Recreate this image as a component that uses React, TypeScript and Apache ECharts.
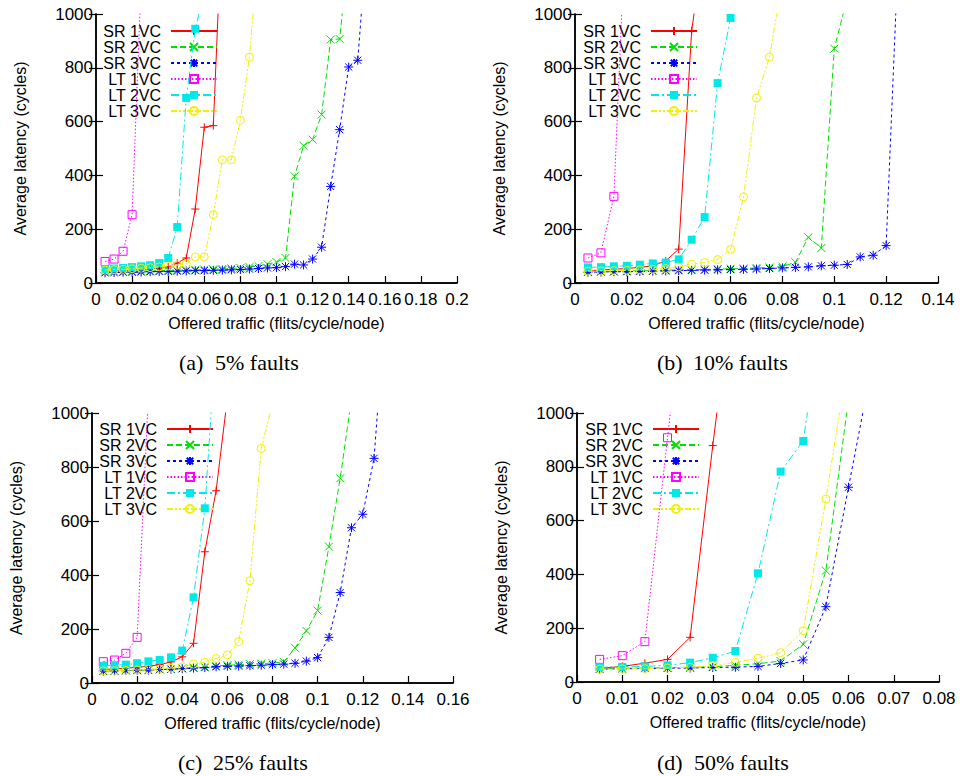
import React, { useEffect, useRef } from "react";
import * as echarts from "echarts";

const SERIES_NAMES = ["SR 1VC", "SR 2VC", "SR 3VC", "LT 1VC", "LT 2VC", "LT 3VC"];

// Offered traffic sample points (flits/cycle/node)
const X_VALUES = [
  0.005, 0.01, 0.015, 0.02, 0.025, 0.03, 0.035, 0.04, 0.045, 0.05,
  0.055, 0.06, 0.065, 0.07, 0.075, 0.08, 0.085, 0.09, 0.095, 0.1,
  0.105, 0.11, 0.115, 0.12, 0.125, 0.13, 0.135, 0.14, 0.145, 0.15,
];

// (a) 5% faults
const A_SR1 = [44, 45, 46, 48, 50, 52, 55, 60, 74, 93, 275, 579, 585, 1380];
const A_SR2 = [42, 43, 43, 44, 45, 45, 46, 47, 48, 48, 49, 50, 51, 52, 54, 56, 59, 63, 70, 78, 93, 397, 510, 533, 626, 905, 907, 1240];
const A_SR3 = [38, 39, 40, 40, 41, 42, 43, 43, 44, 45, 46, 46, 47, 48, 49, 50, 52, 54, 56, 57, 61, 70, 67, 89, 133, 359, 570, 803, 828, 1260];
const A_LT1 = [80, 89, 118, 254, 1120];
const A_LT2 = [52, 54, 56, 59, 62, 66, 74, 93, 208, 688, 945, 1080];
const A_LT3 = [48, 50, 51, 53, 55, 57, 60, 63, 67, 71, 97, 97, 254, 458, 458, 605, 840, 1240];

// (b) 10% faults
const B_SR1 = [46, 48, 51, 54, 58, 64, 82, 126, 938, 1280];
const B_SR2 = [42, 43, 43, 45, 46, 46, 48, 49, 50, 50, 52, 53, 54, 56, 58, 61, 77, 170, 130, 871, 1060];
const B_SR3 = [40, 41, 42, 42, 43, 44, 45, 46, 47, 48, 49, 50, 51, 52, 54, 56, 58, 60, 64, 66, 69, 97, 103, 139, 1300];
const B_LT1 = [93, 112, 322, 1450];
const B_LT2 = [58, 59, 62, 64, 68, 73, 76, 88, 161, 245, 743, 985, 1400];
const B_LT3 = [44, 45, 46, 47, 49, 51, 54, 60, 70, 76, 87, 125, 320, 688, 839, 1130];

// (c) 25% faults
const C_SR1 = [50, 52, 55, 58, 62, 68, 78, 97, 147, 486, 712, 1055];
const C_SR2 = [44, 45, 46, 47, 48, 50, 52, 54, 57, 60, 63, 66, 68, 70, 72, 74, 78, 130, 193, 268, 505, 758, 1053];
const C_SR3 = [44, 45, 46, 47, 48, 50, 51, 53, 55, 57, 60, 62, 63, 64, 66, 68, 70, 73, 81, 94, 169, 335, 575, 625, 832, 1390];
const C_LT1 = [79, 85, 110, 169, 1070];
const C_LT2 = [64, 66, 68, 73, 80, 85, 95, 120, 317, 647, 1280];
const C_LT3 = [45, 46, 47, 48, 50, 52, 55, 60, 70, 77, 91, 104, 153, 379, 869, 1033];

// (d) 50% faults
const D_SR1 = [51, 58, 70, 84, 166, 879, 1550];
const D_SR2 = [50, 51, 52, 53, 55, 57, 62, 68, 78, 140, 414, 1051];
const D_SR3 = [48, 49, 50, 51, 52, 54, 55, 58, 69, 82, 280, 724, 1160];
const D_LT1 = [84, 98, 150, 908, 1650];
const D_LT2 = [55, 56, 58, 62, 72, 90, 115, 404, 782, 896, 1470];
const D_LT3 = [48, 49, 50, 52, 55, 60, 73, 88, 109, 191, 680, 1213];

const CAPTION_LABELS = ["(a)", "(b)", "(c)", "(d)"];
const CAPTION_TEXTS = ["5% faults", "10% faults", "25% faults", "50% faults"];
const X_MAX = [0.2, 0.14, 0.16, 0.08];
const X_INTERVAL = [0.02, 0.02, 0.02, 0.01];
const Y_TICKS_MAX = 1000;
const Y_INTERVAL = 200;

const PANEL_DATA = [
  [A_SR1, A_SR2, A_SR3, A_LT1, A_LT2, A_LT3],
  [B_SR1, B_SR2, B_SR3, B_LT1, B_LT2, B_LT3],
  [C_SR1, C_SR2, C_SR3, C_LT1, C_LT2, C_LT3],
  [D_SR1, D_SR2, D_SR3, D_LT1, D_LT2, D_LT3],
];

// layout (pixels)
const GRIDS = [
  { left: 96, top: 14, width: 361, height: 269 },
  { left: 575, top: 14, width: 363, height: 269 },
  { left: 92, top: 413, width: 361, height: 270 },
  { left: 577, top: 413, width: 362, height: 269 },
];
const LEGEND_POS = [
  { right: 742, top: 23 },
  { right: 262, top: 23 },
  { right: 746, top: 421 },
  { right: 260, top: 421 },
];
const CAPTION_POS = [
  { x1: 179, x2: 215, y: 362 },
  { x1: 657, x2: 693, y: 362 },
  { x1: 178, x2: 213, y: 762 },
  { x1: 657, x2: 694, y: 762 },
];

const PLUS = "path://M0 5L10 5M5 0L5 10";
const CROSS = "path://M0 0L10 10M0 10L10 0";
const STAR = "path://M0 5L10 5M5 0L5 10M1 1L9 9M1 9L9 1";
const SQUARE = "path://M0 0L10 0L10 10L0 10Z";
const CIRCLE = "path://M10 5A5 5 0 1 1 0 5A5 5 0 1 1 10 5Z";

const STYLES = [
  { color: "#ff0000", dash: "solid" as any, symbol: PLUS, fill: "#ff0000", size: 8 },
  { color: "#00e000", dash: [6, 3], symbol: CROSS, fill: "#00e000", size: 8 },
  { color: "#0000ff", dash: [3, 3], symbol: STAR, fill: "#0000ff", size: 9 },
  { color: "#ff00ff", dash: [1.5, 2], symbol: SQUARE, fill: "none", size: 8 },
  { color: "#00e8e8", dash: [8, 3, 2, 3], symbol: "rect", fill: "#00e8e8", size: 8 },
  { color: "#f0f000", dash: [6, 2, 2, 2, 2, 2], symbol: CIRCLE, fill: "none", size: 8 },
];

const SANS = "Liberation Sans";
const SERIF = "Liberation Serif";

function fmtX(v: number) {
  return String(+v.toFixed(3));
}
function fmtY(v: number) {
  return String(Math.round(v));
}

export default function App() {
  const ref = useRef<HTMLDivElement>(null);
  useEffect(() => {
    document.body.style.margin = "0";
    if (!ref.current) return;
    const chart = echarts.init(ref.current, null, { renderer: "svg" });

    const grid: any[] = [];
    const xAxis: any[] = [];
    const yAxis: any[] = [];
    const series: any[] = [];
    const legend: any[] = [];
    const graphic: any[] = [];

    GRIDS.forEach((g, p) => {
      grid.push({ ...g, containLabel: false });
      const axisLine = { show: true, lineStyle: { color: "#000", width: 1.5 } };
      const tick = { show: true, inside: true, length: 7, lineStyle: { color: "#000", width: 1.2 } };
      xAxis.push({
        type: "value",
        gridIndex: p,
        min: 0,
        max: X_MAX[p],
        interval: X_INTERVAL[p],
        position: "bottom",
        name: "Offered traffic (flits/cycle/node)",
        nameLocation: "middle",
        nameGap: 32,
        nameTextStyle: { fontFamily: SANS, fontSize: 16, color: "#000" },
        axisLine,
        axisTick: tick,
        axisLabel: { fontFamily: SANS, fontSize: 17, color: "#000", margin: 8, formatter: fmtX },
        splitLine: { show: false },
      });
      xAxis.push({
        type: "value",
        gridIndex: p,
        min: 0,
        max: X_MAX[p],
        interval: X_INTERVAL[p],
        position: "top",
        axisLine,
        axisTick: { show: false },
        axisLabel: { show: false },
        splitLine: { show: false },
      });
      yAxis.push({
        type: "value",
        gridIndex: p,
        min: 0,
        max: Y_TICKS_MAX,
        interval: Y_INTERVAL,
        position: "left",
        name: "Average latency (cycles)",
        nameLocation: "middle",
        nameGap: 68,
        nameTextStyle: { fontFamily: SANS, fontSize: 16, color: "#000" },
        axisLine,
        axisTick: tick,
        axisLabel: { fontFamily: SANS, fontSize: 17, color: "#000", margin: 3, formatter: fmtY },
        splitLine: { show: false },
      });
      yAxis.push({
        type: "value",
        gridIndex: p,
        min: 0,
        max: Y_TICKS_MAX,
        interval: Y_INTERVAL,
        position: "right",
        axisLine,
        axisTick: tick,
        axisLabel: { show: false },
        splitLine: { show: false },
      });

      PANEL_DATA[p].forEach((ys, s) => {
        const st = STYLES[s];
        series.push({
          type: "line",
          name: SERIES_NAMES[s],
          xAxisIndex: p * 2,
          yAxisIndex: p * 2,
          data: ys.map((y, i) => [X_VALUES[i], y]),
          clip: true,
          symbol: st.symbol,
          symbolSize: st.size,
          showSymbol: true,
          lineStyle: { color: st.color, width: 1, type: st.dash },
          itemStyle: {
            color: st.fill,
            borderColor: st.color,
            borderWidth: st.symbol === "rect" ? 0 : 1,
          },
          emphasis: { disabled: true },
          z: 2 + s,
        });
      });

      legend.push({
        data: SERIES_NAMES,
        orient: "vertical",
        align: "right",
        right: LEGEND_POS[p].right,
        top: LEGEND_POS[p].top,
        padding: 0,
        itemGap: 0,
        itemWidth: 46,
        itemHeight: 10,
        selectedMode: false,
        textStyle: {
          fontFamily: SANS,
          fontSize: 16,
          lineHeight: 16,
          color: "#000",
          padding: [0, 5, 0, 0],
        },
      });

      const c = CAPTION_POS[p];
      graphic.push({
        type: "text",
        x: c.x1,
        y: c.y,
        style: {
          text: CAPTION_LABELS[p],
          font: `22px "${SERIF}"`,
          fill: "#000",
          verticalAlign: "middle",
        },
      });
      graphic.push({
        type: "text",
        x: c.x2,
        y: c.y,
        style: {
          text: CAPTION_TEXTS[p],
          font: `22px "${SERIF}"`,
          fill: "#000",
          verticalAlign: "middle",
        },
      });
    });

    chart.setOption({
      animation: false,
      backgroundColor: "#fff",
      textStyle: { fontFamily: SANS },
      grid,
      xAxis,
      yAxis,
      legend,
      series,
      graphic,
    });

    return () => chart.dispose();
  }, []);

  return <div ref={ref} style={{ width: 960, height: 776 }} />;
}
